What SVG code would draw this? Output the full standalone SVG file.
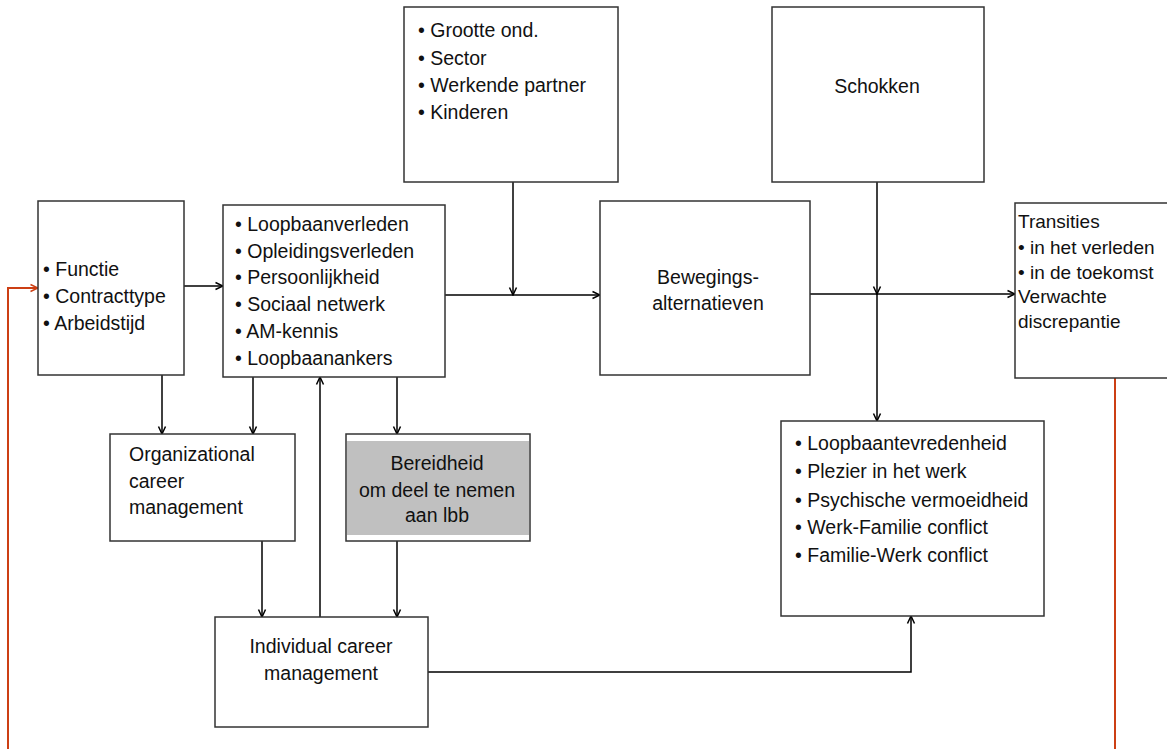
<svg xmlns="http://www.w3.org/2000/svg" width="1167" height="749" viewBox="0 0 1167 749">
<style>
.box{fill:#fff;stroke:#333;stroke-width:1.5}
.t{font-family:"Liberation Sans",Arial,sans-serif;font-size:19.5px;fill:#111}
.s{font-size:19px}
.c{text-anchor:middle}
.ln{fill:none;stroke:#000;stroke-width:1.5}
.red{fill:none;stroke:#cc3f14;stroke-width:2}
</style>
<defs>
<marker id="a" viewBox="0 0 10 10" refX="9.5" refY="5" markerWidth="10" markerHeight="10" markerUnits="userSpaceOnUse" orient="auto">
<path d="M2,1.5 L9.5,5 L2,8.5" fill="none" stroke="#000" stroke-width="1.5"/>
</marker>
<marker id="ar" viewBox="0 0 10 10" refX="9.5" refY="5" markerWidth="10" markerHeight="10" markerUnits="userSpaceOnUse" orient="auto">
<path d="M2,1.5 L9.5,5 L2,8.5" fill="none" stroke="#cc3f14" stroke-width="1.5"/>
</marker>
</defs>
<rect width="1167" height="749" fill="#fff"/>

<g id="connectors">
<path class="ln" d="M184,286 H223" marker-end="url(#a)"/>
<path class="ln" d="M445,295 H600" marker-end="url(#a)"/>
<path class="ln" d="M513,182 V295" marker-end="url(#a)"/>
<path class="ln" d="M810,294 H1015" marker-end="url(#a)"/>
<path class="ln" d="M877,182 V294" marker-end="url(#a)"/>
<path class="ln" d="M877,294 V421" marker-end="url(#a)"/>
<path class="ln" d="M162,375 V434" marker-end="url(#a)"/>
<path class="ln" d="M253,377 V434" marker-end="url(#a)"/>
<path class="ln" d="M397,377 V434" marker-end="url(#a)"/>
<path class="ln" d="M320,617 V377" marker-end="url(#a)"/>
<path class="ln" d="M262,541 V617" marker-end="url(#a)"/>
<path class="ln" d="M397,541 V617" marker-end="url(#a)"/>
<path class="ln" d="M428,672 H911 V616" marker-end="url(#a)"/>
<path class="red" d="M8,749 V288 H38" marker-end="url(#ar)"/>
<path class="red" d="M1115,378 V749"/>
</g>

<g id="n-functie">
<rect class="box" x="38" y="201" width="146" height="174"/>
<text class="t" x="43" y="276">• Functie</text>
<text class="t" x="43" y="303">• Contracttype</text>
<text class="t" x="43" y="330">• Arbeidstijd</text>
</g>

<g id="n-loopbaan">
<rect class="box" x="223" y="205" width="222" height="172"/>
<text class="t" x="235" y="231">• Loopbaanverleden</text>
<text class="t" x="235" y="258">• Opleidingsverleden</text>
<text class="t" x="235" y="284">• Persoonlijkheid</text>
<text class="t" x="235" y="311">• Sociaal netwerk</text>
<text class="t" x="235" y="338">• AM-kennis</text>
<text class="t" x="235" y="365">• Loopbaanankers</text>
</g>

<g id="n-grootte">
<rect class="box" x="404" y="7" width="214" height="175"/>
<text class="t" x="418" y="37">• Grootte ond.</text>
<text class="t" x="418" y="65">• Sector</text>
<text class="t" x="418" y="92">• Werkende partner</text>
<text class="t" x="418" y="119">• Kinderen</text>
</g>

<g id="n-schokken">
<rect class="box" x="772" y="7" width="212" height="175"/>
<text class="t c" x="877" y="93">Schokken</text>
</g>

<g id="n-bewegings">
<rect class="box" x="600" y="201" width="210" height="174"/>
<text class="t c" x="708" y="284">Bewegings-</text>
<text class="t c" x="708" y="310">alternatieven</text>
</g>

<g id="n-transities">
<rect class="box" x="1015" y="203" width="160" height="175"/>
<text class="t s" x="1018" y="228">Transities</text>
<text class="t s" x="1018" y="254">• in het verleden</text>
<text class="t s" x="1018" y="279">• in de toekomst</text>
<text class="t s" x="1018" y="303">Verwachte</text>
<text class="t s" x="1018" y="328">discrepantie</text>
</g>

<g id="n-organizational">
<rect class="box" x="110" y="434" width="185" height="107"/>
<text class="t" x="129" y="461">Organizational</text>
<text class="t" x="129" y="488">career</text>
<text class="t" x="129" y="514">management</text>
</g>

<g id="n-bereidheid">
<rect class="box" x="346" y="434" width="184" height="107"/>
<rect x="347" y="441" width="182" height="94" fill="#c0c0c0"/>
<text class="t c" x="437" y="470">Bereidheid</text>
<text class="t c" x="437" y="497">om deel te nemen</text>
<text class="t c" x="437" y="522">aan lbb</text>
</g>

<g id="n-individual">
<rect class="box" x="215" y="617" width="213" height="110"/>
<text class="t c" x="321" y="653">Individual career</text>
<text class="t c" x="321" y="680">management</text>
</g>

<g id="n-tevredenheid">
<rect class="box" x="781" y="421" width="263" height="195"/>
<text class="t" x="795" y="450">• Loopbaantevredenheid</text>
<text class="t" x="795" y="478">• Plezier in het werk</text>
<text class="t" x="795" y="507">• Psychische vermoeidheid</text>
<text class="t" x="795" y="534">• Werk-Familie conflict</text>
<text class="t" x="795" y="562">• Familie-Werk conflict</text>
</g>
</svg>
